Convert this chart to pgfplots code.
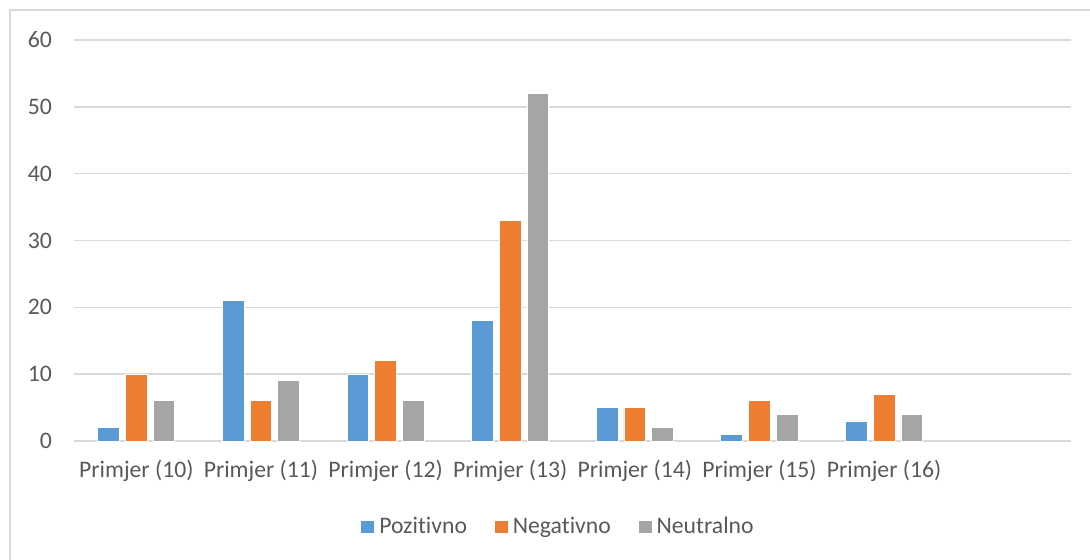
\documentclass[border=0pt]{standalone}
\usepackage{pgfplots}
\pgfplotsset{compat=1.18}
\usepackage{fontspec}
\setmainfont{Carlito}[Ligatures=CommonOff]
\definecolor{pos}{HTML}{5B9BD5}
\definecolor{neg}{HTML}{ED7D31}
\definecolor{neu}{HTML}{A5A5A5}
\definecolor{gridc}{HTML}{D9D9D9}
\definecolor{txt}{HTML}{595959}
\begin{document}
\begin{tikzpicture}
% page = 1090x560 px, 1 px = 0.5pt, axis lower left at px (74,441)
\path[use as bounding box] (-37pt,-59.5pt) rectangle (508pt,220.5pt);
\draw[gridc, line width=0.6pt] (-32pt,-80pt) rectangle (530pt,215.5pt);
\begin{axis}[
    at={(0pt,0pt)}, anchor=south west,
    scale only axis,
    width=498.5pt, height=200.5pt,
    ybar=3pt, bar width=10.85pt,
    xmin=-0.5, xmax=7.5,
    ymin=0, ymax=60,
    ytick={0,10,...,60},
    xtick={0,...,6},
    xticklabels={Primjer (10),Primjer (11),Primjer (12),Primjer (13),Primjer (14),Primjer (15),Primjer (16)},
    axis line style={draw=none},
    major tick length=0pt,
    ymajorgrids, grid style={draw=gridc, line width=0.7pt},
    tick label style={font=\fontsize{11.85}{14}\selectfont, text=txt},
    /pgf/number format/assume math mode=true,
    yticklabel style={xshift=-7.5pt},
    xticklabel style={yshift=-6pt},
    legend style={at={(0.4865,-0.2145)}, anchor=center, draw=none,
        font=\fontsize{11.85}{14}\selectfont, text=txt,
        legend columns=3, /tikz/every even column/.append style={column sep=11.5pt}},
    legend image code/.code={\fill[#1] (0pt,-3.4pt) rectangle (7pt,3.4pt);},
    clip=false,
]
\addplot[draw=white, line width=0.4pt, fill=pos] coordinates {(0,2) (1,21) (2,10) (3,18) (4,5) (5,1) (6,3)};
\addlegendentry{Pozitivno}
\addplot[draw=white, line width=0.4pt, fill=neg] coordinates {(0,10) (1,6) (2,12) (3,33) (4,5) (5,6) (6,7)};
\addlegendentry{Negativno}
\addplot[draw=white, line width=0.4pt, fill=neu] coordinates {(0,6) (1,9) (2,6) (3,52) (4,2) (5,4) (6,4)};
\addlegendentry{Neutralno}
\end{axis}
\end{tikzpicture}
\end{document}
